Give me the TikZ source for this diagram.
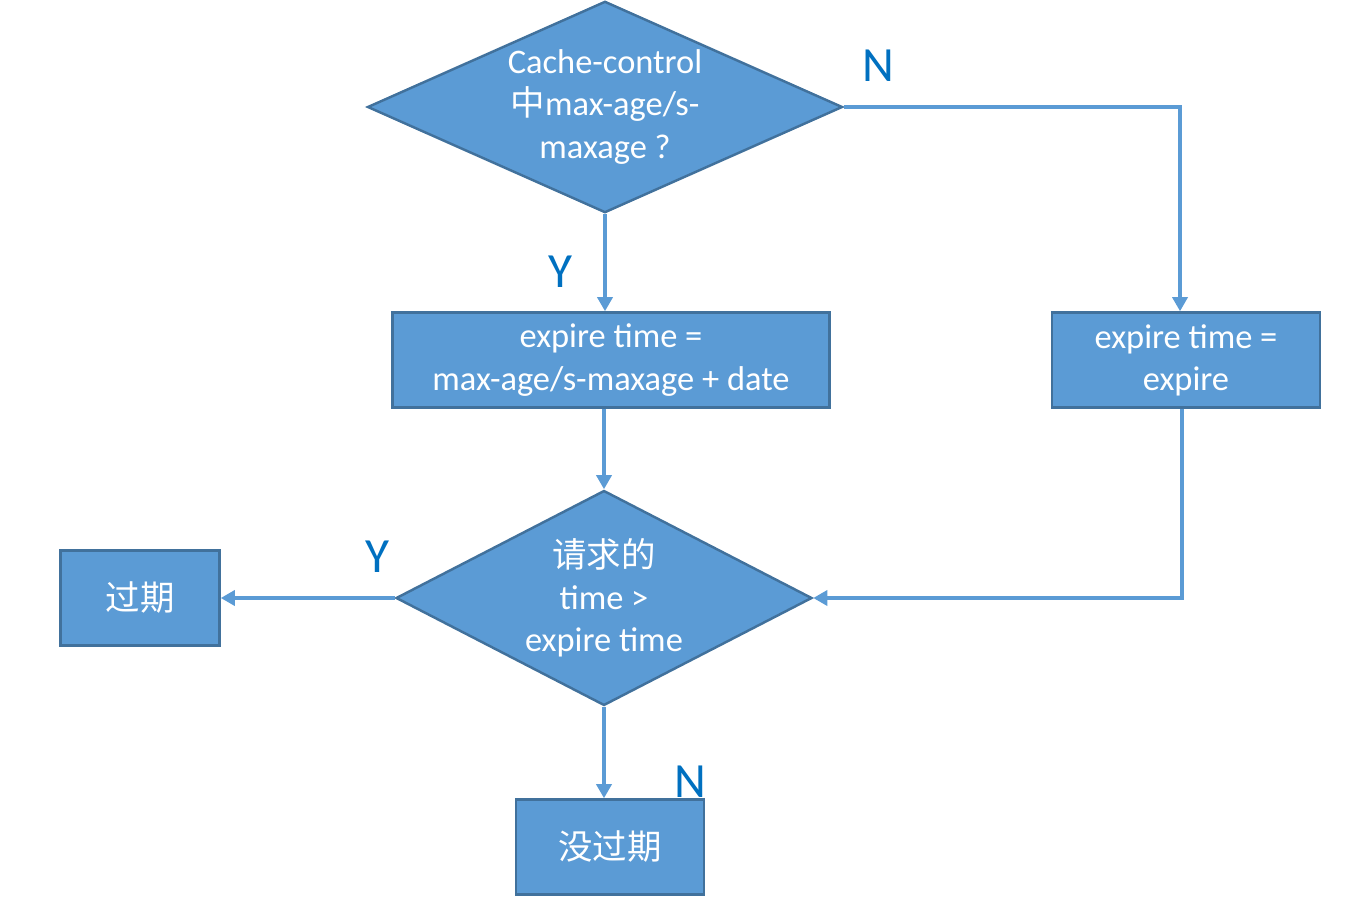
\documentclass[tikz,border=0pt]{standalone}
\usepackage{fontspec}
\setmainfont{Carlito}
\newfontfamily\cjk{Noto Sans CJK SC}
\usepackage{tikz}
\usetikzlibrary{
	shapes.geometric,
	positioning,
	arrows.meta
}
\definecolor{boxfill}{HTML}{5B9BD5}
\definecolor{boxline}{HTML}{41719C}
\definecolor{flowline}{HTML}{5B9BD5}
\definecolor{yntext}{HTML}{0070C0}

\tikzset{
	box/.style={draw=boxline,fill=boxfill,line width=1.4pt,text=white,
		align=center,font=\fontsize{19.6}{24}\selectfont,inner sep=0pt},
	test/.style={box,diamond,aspect=2},
	flow/.style={draw=flowline,line width=2.3pt,-{Triangle[length=8pt,width=8.5pt]}},
	yn/.style={text=yntext,font=\fontsize{28}{30}\selectfont}
}

\begin{document}
\begin{tikzpicture}[x=0.02cm,y=-0.02cm]
	\useasboundingbox (0,0) rectangle (1350,916);
	\draw
		node [test,minimum width=475*0.02cm,minimum height=210*0.02cm] at (605,107) (maxage)
			{Cache-control\\{\cjk 中}max-age/s-\\maxage ?}
		node [box,minimum width=437*0.02cm,minimum height=95*0.02cm] at (611,360) (calc)
			{expire time =\\max-age/s-maxage + date}
		node [box,minimum width=268*0.02cm,minimum height=95*0.02cm] at (1186,360) (expires)
			{expire time =\\expire}
		node [test,minimum width=416*0.02cm,minimum height=215*0.02cm] at (604,598) (compare)
			{{\cjk 请求的}\\time >\\expire time}
		node [box,minimum width=159*0.02cm,minimum height=95*0.02cm] at (140,598) (stale)
			{\cjk 过期}
		node [box,minimum width=188*0.02cm,minimum height=95*0.02cm] at (610,847) (fresh)
			{\cjk 没过期}
	;
	\draw[flow] (maxage.east) -| ([xshift=-3.4pt]expires.north);
	\draw[flow] (maxage.south) -- (maxage.south |- calc.north);
	\draw[flow] (calc.south -| compare.north) -- (compare.north);
	\draw[flow] ([xshift=-2.5pt]expires.south) |- (compare.east);
	\draw[flow] (compare.west) -- (stale.east);
	\draw[flow] (compare.south) -- (compare.south |- fresh.north);

	\node[yn] (n1) at (878,66) {N};
	\node[yn] (y1) at (560,272) {Y};
	\node[yn] (y2) at (377,557) {Y};
	\node[yn] (n2) at (690,782) {N};
\end{tikzpicture}
\end{document}
